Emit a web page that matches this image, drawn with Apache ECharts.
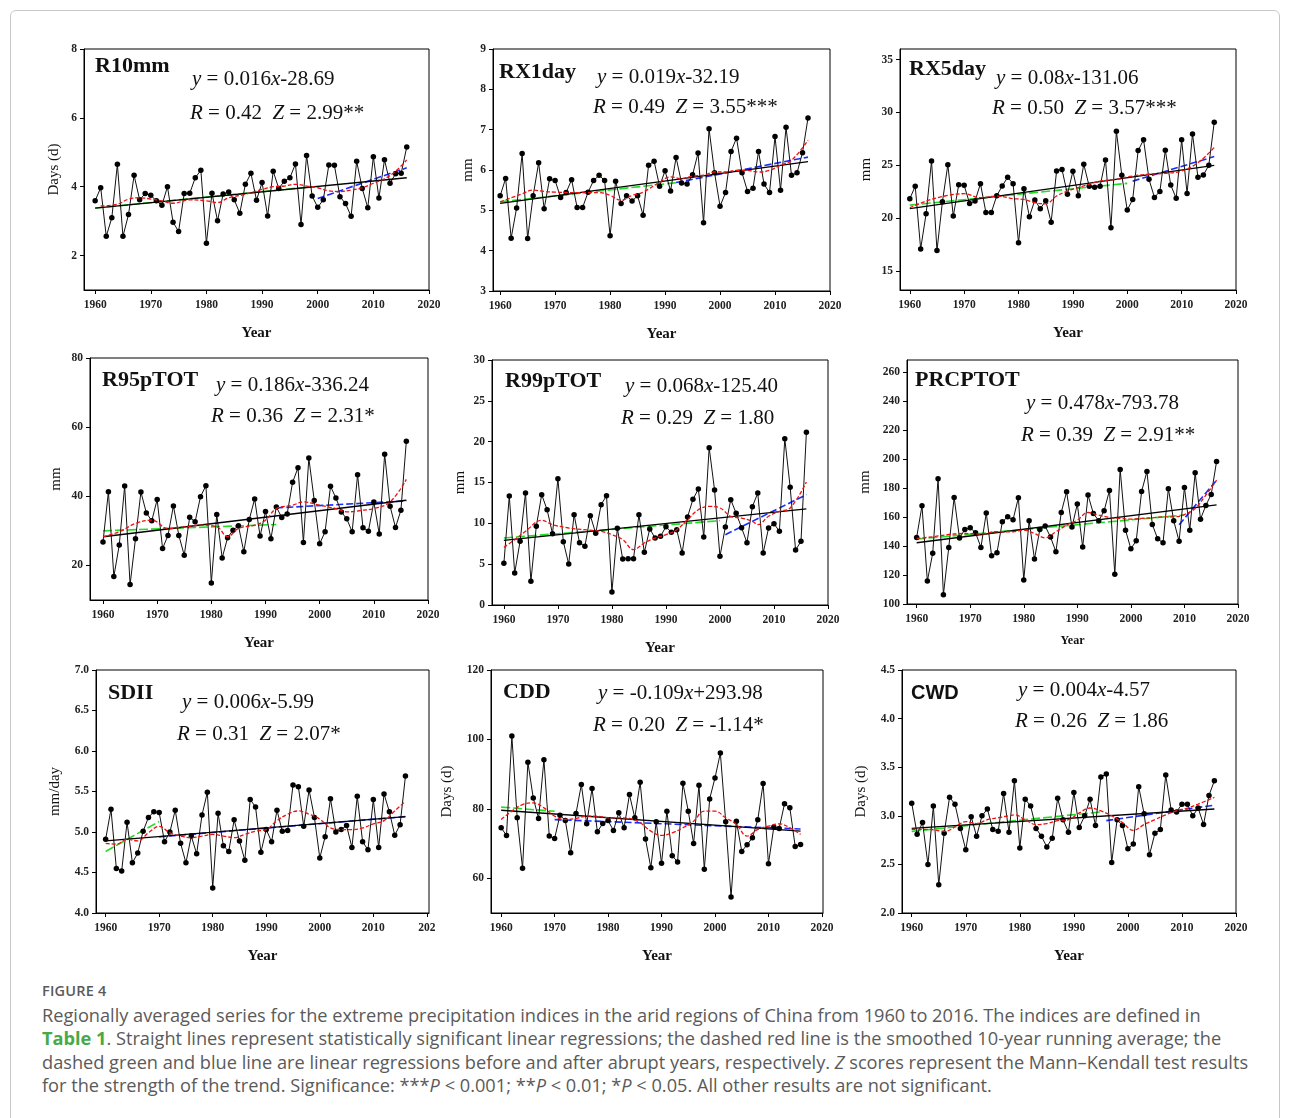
<!DOCTYPE html>
<html><head><meta charset="utf-8">
<script src="https://cdn.jsdelivr.net/npm/echarts@6/dist/echarts.min.js"></script>
<style>
html,body{margin:0;padding:0;background:#fff;width:1290px;height:1118px;overflow:hidden;}
#frame{position:absolute;left:10px;top:10px;width:1270px;height:1200px;border:1px solid #c9c9c9;border-radius:6px;box-sizing:border-box;}
#chart{position:absolute;left:0;top:0;width:1290px;height:975px;}
#fig{position:absolute;left:42px;top:981px;font-family:"Open Sans",sans-serif;font-size:14.5px;font-weight:600;color:#5a5a5a;letter-spacing:0.2px;}
#cap{position:absolute;left:42px;top:1004px;font-family:"Open Sans",sans-serif;font-size:18.2px;line-height:23.4px;color:#5a5a5a;white-space:nowrap;}
#cap b{color:#46a94a;font-weight:700;}
</style></head>
<body>
<div id="frame"></div>
<div id="chart"></div>
<div id="fig">FIGURE 4</div>
<div id="cap">Regionally averaged series for the extreme precipitation indices in the arid regions of China from 1960 to 2016. The indices are defined in<br><b>Table 1</b>. Straight lines represent statistically significant linear regressions; the dashed red line is the smoothed 10-year running average; the<br>dashed green and blue line are linear regressions before and after abrupt years, respectively. <i>Z</i> scores represent the Mann&#8211;Kendall test results<br>for the strength of the trend. Significance: ***<i>P</i> &lt; 0.001; **<i>P</i> &lt; 0.01; *<i>P</i> &lt; 0.05. All other results are not significant.</div>
<script>
const YEARS = [1960,1961,1962,1963,1964,1965,1966,1967,1968,1969,1970,1971,1972,1973,1974,1975,1976,1977,1978,1979,1980,1981,1982,1983,1984,1985,1986,1987,1988,1989,1990,1991,1992,1993,1994,1995,1996,1997,1998,1999,2000,2001,2002,2003,2004,2005,2006,2007,2008,2009,2010,2011,2012,2013,2014,2015,2016];
const X_TICKS = [1960,1970,1980,1990,2000,2010,2020];

// ---- annual series ----
const R10mm = [3.59,3.97,2.56,3.10,4.65,2.56,3.19,4.33,3.62,3.80, 3.75,3.59,3.46,4.00,2.97,2.70,3.80,3.81,4.26,4.48, 2.36,3.81,3.01,3.79,3.85,3.62,3.23,4.07,4.39,3.61, 4.12,3.15,4.45,3.95,4.16,4.26,4.66,2.90,4.91,3.73, 3.40,3.62,4.63,4.62,3.71,3.51,3.14,4.74,3.95,3.39, 4.87,3.67,4.78,4.10,4.38,4.39,5.15];
const RX1day = [5.36,5.79,4.31,5.06,6.41,4.30,5.36,6.18,5.04,5.78, 5.74,5.32,5.44,5.76,5.07,5.07,5.45,5.74,5.87,5.74, 4.37,5.72,5.17,5.36,5.23,5.36,4.88,6.12,6.22,5.60, 5.98,5.48,6.31,5.68,5.65,5.88,6.42,4.69,7.02,5.93, 5.10,5.44,6.46,6.79,5.93,5.47,5.55,6.46,5.65,5.44, 6.83,5.50,7.06,5.87,5.93,6.43,7.29];
const RX5day = [21.84,23.01,17.09,20.41,25.41,16.93,21.55,25.06,20.19,23.16, 23.10,21.39,21.61,23.26,20.54,20.54,22.12,23.04,23.86,23.26, 17.66,22.78,20.13,21.71,20.89,21.65,19.62,24.46,24.59,22.25, 24.43,22.12,25.09,23.01,22.91,23.01,25.51,19.08,28.23,24.05, 20.76,21.77,26.39,27.41,23.67,21.96,22.53,26.42,23.13,21.87, 27.41,22.34,27.97,23.86,24.08,25.00,29.08];
const R95pTOT = [26.76,41.34,16.78,25.89,42.98,14.47,27.72,41.25,35.20,32.90, 39.04,24.93,28.68,37.22,28.68,22.92,33.95,32.61,39.90,43.07, 14.95,34.72,22.15,28.00,30.21,31.46,23.97,33.28,39.23,28.48, 35.59,27.72,36.93,33.86,34.91,44.03,48.25,26.66,51.04,38.75, 26.28,29.73,42.88,39.52,35.49,33.47,29.73,46.24,30.88,29.92, 38.37,29.06,52.19,37.12,30.98,35.97,55.93];
const R99pTOT = [5.10,13.35,3.92,7.80,13.71,2.90,9.63,13.51,11.67,8.73, 15.47,7.76,5.02,11.06,7.63,7.18,10.94,8.78,12.29,13.39, 1.59,9.39,5.63,5.67,5.67,11.06,6.45,9.31,8.20,8.41, 9.59,8.90,9.22,6.37,10.78,12.94,14.20,8.33,19.27,14.08, 5.96,9.55,12.90,11.22,9.47,7.63,12.04,13.71,6.37,9.43, 9.96,9.02,20.37,14.41,6.73,7.80,21.14];
const PRCPTOT = [146.0,167.8,115.8,135.1,186.5,106.4,139.1,173.6,145.5,151.5, 152.6,149.2,139.1,162.8,133.3,135.4,156.8,160.2,158.2,173.4, 116.5,157.5,131.0,151.5,153.8,146.2,136.1,163.2,177.5,153.1, 169.0,139.3,175.2,162.5,157.5,164.4,178.4,120.6,192.9,151.0, 138.1,143.7,177.7,191.5,154.9,145.0,142.3,179.6,157.5,143.4, 180.5,151.0,190.6,158.6,168.1,175.7,198.4];
const SDII = [4.91,5.28,4.55,4.52,5.12,4.62,4.74,5.01,5.18,5.25, 5.24,4.88,5.00,5.27,4.86,4.62,4.95,4.73,5.21,5.49, 4.31,5.23,4.83,4.76,5.15,4.89,4.65,5.40,5.31,4.75, 5.03,4.88,5.27,5.01,5.02,5.58,5.56,5.07,5.52,5.18, 4.68,4.94,5.41,5.00,5.03,5.08,4.81,5.44,4.88,4.78, 5.40,4.81,5.47,5.25,4.96,5.09,5.69];
const CDD = [74.55,72.34,100.96,77.42,62.87,93.40,83.16,77.22,94.16,72.15, 71.48,78.18,76.65,67.37,78.66,86.99,75.69,85.84,73.40,75.79, 76.65,73.78,78.85,74.55,84.11,77.42,87.66,71.29,63.06,76.27, 64.31,79.33,66.51,64.69,87.37,79.33,70.05,86.79,62.58,82.87, 88.90,96.08,76.27,54.64,76.46,67.75,69.67,71.67,76.84,87.27, 64.21,74.74,74.35,81.44,80.29,69.19,69.76];
const CWD = [3.13,2.81,2.93,2.50,3.10,2.29,2.82,3.19,3.12,2.87, 2.65,2.99,2.79,3.00,3.07,2.86,2.84,3.23,2.83,3.36, 2.67,3.17,3.10,2.87,2.79,2.68,2.77,3.18,2.96,2.83, 3.24,2.88,3.00,3.17,2.90,3.40,3.43,2.52,2.96,2.90, 2.66,2.71,3.30,3.02,2.60,2.82,2.86,3.42,3.06,3.04, 3.12,3.12,3.00,3.08,2.91,3.21,3.36];

// ---- smoothed 10-year running average ----
const R10mm_smooth = [[1961,3.44],[1964,3.49],[1966,3.64],[1968,3.68],[1970,3.64],[1972,3.59],[1974,3.52],[1977,3.62],[1980,3.59],[1982,3.54],[1984,3.68],[1987,3.78],[1990,3.92],[1992,4.0],[1994,4.02],[1996,4.07],[1998,4.02],[2000,3.97],[2002,3.88],[2004,3.86],[2006,3.90],[2008,3.97],[2010,4.10],[2012,4.23],[2014,4.45],[2016,4.78]];
const RX1day_smooth = [[1960,5.21],[1962,5.31],[1964,5.41],[1966,5.50],[1968,5.47],[1970,5.45],[1974,5.44],[1978,5.44],[1980,5.37],[1982,5.25],[1984,5.37],[1986,5.45],[1989,5.70],[1991,5.83],[1993,5.79],[1995,5.85],[1997,5.87],[1999,5.95],[2001,5.95],[2003,5.99],[2005,5.99],[2007,5.95],[2009,5.99],[2011,6.12],[2013,6.24],[2016,6.74]];
const RX5day_smooth = [[1960,20.98],[1963,21.61],[1967,22.15],[1970,22.31],[1973,21.93],[1976,22.09],[1979,21.84],[1981,21.77],[1983,21.46],[1985,21.36],[1987,22.09],[1989,22.56],[1992,23.04],[1995,23.51],[1998,23.67],[2001,23.99],[2004,24.15],[2007,24.24],[2010,24.46],[2013,25.25],[2016,26.68]];
const R95pTOT_smooth = [[1960,28.29],[1963,29.73],[1966,32.13],[1969,33.09],[1972,30.69],[1975,31.17],[1978,31.65],[1981,31.17],[1983,28.29],[1985,30.69],[1988,31.65],[1990,33.09],[1992,36.45],[1995,37.41],[1997,38.37],[2000,37.41],[2003,36.45],[2005,35.49],[2008,35.97],[2010,36.45],[2013,38.37],[2016,44.89]];
const R99pTOT_smooth = [[1960,7.06],[1962,8.0],[1964,9.02],[1967,10.37],[1969,9.84],[1972,9.43],[1975,9.22],[1978,9.02],[1980,8.61],[1982,8.0],[1984,6.78],[1986,7.59],[1988,8.2],[1990,8.61],[1992,9.22],[1994,10.45],[1996,11.67],[1998,12.08],[2000,11.88],[2002,10.86],[2004,10.65],[2006,10.24],[2007,9.84],[2009,10.86],[2011,11.47],[2013,11.88],[2016,15.06]];
const PRCPTOT_smooth = [[1960,145.3],[1963,146.4],[1966,148.0],[1969,148.7],[1972,148.3],[1975,149.9],[1978,149.9],[1980,151.0],[1982,148.7],[1984,145.7],[1986,149.9],[1988,154.5],[1990,157.9],[1992,163.2],[1994,161.4],[1996,159.8],[1998,159.1],[2000,158.6],[2002,159.1],[2004,159.5],[2006,160.2],[2008,160.2],[2010,161.8],[2012,166.0],[2014,175.2],[2016,185.5]];
const SDII_smooth = [[1960,4.86],[1962,4.85],[1964,4.91],[1966,4.89],[1968,4.99],[1970,5.07],[1972,4.99],[1974,4.95],[1976,4.93],[1978,4.95],[1980,4.97],[1982,4.95],[1984,4.93],[1986,4.97],[1988,5.01],[1990,5.03],[1992,5.14],[1994,5.22],[1996,5.26],[1998,5.22],[2000,5.16],[2002,5.05],[2004,5.03],[2006,5.03],[2008,5.05],[2010,5.10],[2012,5.14],[2014,5.26],[2016,5.38]];
const CDD_smooth = [[1960,76.94],[1962,79.33],[1964,81.24],[1966,81.72],[1968,80.29],[1970,77.89],[1972,76.94],[1974,77.22],[1976,77.89],[1978,77.89],[1980,77.42],[1982,77.42],[1984,77.22],[1986,75.98],[1988,73.59],[1990,72.34],[1992,73.11],[1994,74.55],[1996,76.46],[1998,79.33],[2000,79.33],[2002,77.42],[2004,75.5],[2006,72.15],[2008,74.07],[2010,75.02],[2012,75.69],[2014,74.55],[2016,72.63]];
const CWD_smooth = [[1960,2.86],[1963,2.86],[1966,2.84],[1969,2.92],[1970,2.94],[1972,2.92],[1974,2.96],[1976,2.98],[1978,3.0],[1979,3.01],[1981,2.96],[1983,2.91],[1985,2.92],[1987,2.95],[1989,2.96],[1991,3.03],[1993,3.08],[1995,3.05],[1997,3.0],[1999,2.93],[2001,2.85],[2003,2.91],[2005,2.96],[2007,3.01],[2009,3.05],[2011,3.08],[2013,3.12],[2016,3.19]];

// ---- regression line end points: whole period / before / after abrupt year ----
const R10mm_fit = [[1960,3.38],[2016,4.26]], R10mm_before = [[1960,3.38],[1999,4.0]], R10mm_after = [[2000,3.66],[2016,4.55]];
const RX1day_fit = [[1960,5.17],[2016,6.21]], RX1day_before = [[1960,5.21],[1993,5.70]], RX1day_after = [[1992,5.69],[2016,6.32]];
const RX5day_fit = [[1960,20.89],[2016,25.0]], RX5day_before = [[1960,21.23],[2000,23.29]], RX5day_after = [[2001,23.5],[2016,25.82]];
const R95pTOT_fit = [[1960,28.29],[2016,38.85]], R95pTOT_before = [[1960,30.0],[1992,31.84]], R95pTOT_after = [[1992,36.64],[2016,38.66]];
const R99pTOT_fit = [[1960,7.92],[2016,11.76]], R99pTOT_before = [[1960,8.2],[2000,10.33]], R99pTOT_after = [[2001,8.61],[2016,13.51]];
const PRCPTOT_fit = [[1960,142.3],[2016,168.5]], PRCPTOT_before = [[1960,144.8],[2010,161.4]], PRCPTOT_after = [[2009,154.7],[2016,185.5]];
const SDII_fit = [[1960,4.89],[2016,5.19]], SDII_before = [[1960,4.76],[1970,5.13]], SDII_after = [[1970,4.94],[2016,5.19]];
const CDD_fit = [[1960,79.6],[2016,73.6]], CDD_before = [[1960,80.5],[1970,79.3]], CDD_after = [[1970,76.9],[2016,74.2]];
const CWD_fit = [[1960,2.87],[2016,3.07]], CWD_before = [[1960,2.84],[1995,3.04]], CWD_after = [[1996,2.95],[2016,3.11]];

// ---- y tick labels ----
const R10mm_yticks = [2,4,6,8];
const RX1day_yticks = [3,4,5,6,7,8,9];
const RX5day_yticks = [15,20,25,30,35];
const R95pTOT_yticks = [20,40,60,80];
const R99pTOT_yticks = [0,5,10,15,20,25,30];
const PRCPTOT_yticks = [100,120,140,160,180,200,220,240,260];
const SDII_yticks = [4.0,4.5,5.0,5.5,6.0,6.5,7.0];
const CDD_yticks = [60,80,100,120];
const CWD_yticks = [2.0,2.5,3.0,3.5,4.0,4.5];

const panels = [
 {name:'R10mm', vals:R10mm, sm:R10mm_smooth, fit:R10mm_fit, b:R10mm_before, a:R10mm_after, yt:R10mm_yticks,
  grid:[84,49,345,241], xr:[1958,2020], yr:[1,8], yname:'Days (d)', ygap:22,
  t:[95,55], e1:['{i|y} = 0.016{i|x}-28.69',192,69], e2:['{i|R} = 0.42  {i|Z} = 2.99**',190,103]},
 {name:'RX1day', vals:RX1day, sm:RX1day_smooth, fit:RX1day_fit, b:RX1day_before, a:RX1day_after, yt:RX1day_yticks,
  grid:[493,49,337,242], xr:[1958.7,2020], yr:[3,9], yname:'mm', ygap:17,
  t:[499,61], e1:['{i|y} = 0.019{i|x}-32.19',597,67], e2:['{i|R} = 0.49  {i|Z} = 3.55***',593,97]},
 {name:'RX5day', vals:RX5day, sm:RX5day_smooth, fit:RX5day_fit, b:RX5day_before, a:RX5day_after, yt:RX5day_yticks,
  grid:[900,49,336,241], xr:[1958.2,2020], yr:[13.2,36], yname:'mm', ygap:26,
  t:[909,58], e1:['{i|y} = 0.08{i|x}-131.06',996,68], e2:['{i|R} = 0.50  {i|Z} = 3.57***',992,98]},
 {name:'R95pTOT', vals:R95pTOT, sm:R95pTOT_smooth, fit:R95pTOT_fit, b:R95pTOT_before, a:R95pTOT_after, yt:R95pTOT_yticks,
  grid:[90,358,338,242], xr:[1957.6,2020], yr:[10,80], yname:'mm', ygap:26,
  t:[102,369], e1:['{i|y} = 0.186{i|x}-336.24',216,375], e2:['{i|R} = 0.36  {i|Z} = 2.31*',211,406]},
 {name:'R99pTOT', vals:R99pTOT, sm:R99pTOT_smooth, fit:R99pTOT_fit, b:R99pTOT_before, a:R99pTOT_after, yt:R99pTOT_yticks,
  grid:[492,360,336,245], xr:[1957.8,2020], yr:[0,30], yname:'mm', ygap:24,
  t:[505,370], e1:['{i|y} = 0.068{i|x}-125.40',625,376], e2:['{i|R} = 0.29  {i|Z} = 1.80',621,408]},
 {name:'PRCPTOT', vals:PRCPTOT, sm:PRCPTOT_smooth, fit:PRCPTOT_fit, b:PRCPTOT_before, a:PRCPTOT_after, yt:PRCPTOT_yticks,
  grid:[907,360,331,244], xr:[1958.2,2020], yr:[100,268.5], yname:'mm', ygap:34, smallYear:true,
  t:[915,369], e1:['{i|y} = 0.478{i|x}-793.78',1026,393], e2:['{i|R} = 0.39  {i|Z} = 2.91**',1021,425]},
 {name:'SDII', vals:SDII, sm:SDII_smooth, fit:SDII_fit, b:SDII_before, a:SDII_after, yt:SDII_yticks, dec:1, last202:true,
  grid:[96,670,333,243], xr:[1958.2,2020.4], yr:[4,7], yname:'mm/day', ygap:33,
  t:[108,682], e1:['{i|y} = 0.006{i|x}-5.99',182,692], e2:['{i|R} = 0.31  {i|Z} = 2.07*',177,724]},
 {name:'CDD', vals:CDD, sm:CDD_smooth, fit:CDD_fit, b:CDD_before, a:CDD_after, yt:CDD_yticks,
  grid:[491,670,332,243], xr:[1958.1,2020.2], yr:[50,120], yname:'Days (d)', ygap:36,
  t:[503,681], e1:['{i|y} = -0.109{i|x}+293.98',598,683], e2:['{i|R} = 0.20  {i|Z} = -1.14*',593,715]},
 {name:'CWD', vals:CWD, sm:CWD_smooth, fit:CWD_fit, b:CWD_before, a:CWD_after, yt:CWD_yticks, dec:1, sans:true,
  grid:[902,670,334,243], xr:[1958.2,2020], yr:[2,4.5], yname:'Days (d)', ygap:33,
  t:[911,683], e1:['{i|y} = 0.004{i|x}-4.57',1018,680], e2:['{i|R} = 0.26  {i|Z} = 1.86',1015,711]}
];

const SERIF = '"Liberation Serif","DejaVu Serif",serif';
const grids=[], xAxes=[], yAxes=[], series=[], titles=[];
panels.forEach((p,k)=>{
  grids.push({left:p.grid[0], top:p.grid[1], width:p.grid[2], height:p.grid[3], show:true, borderColor:'#000', borderWidth:1, backgroundColor:'transparent', containLabel:false});
  xAxes.push({type:'value', gridIndex:k, min:p.xr[0], max:p.xr[1],
    name:'Year', nameLocation:'middle', nameGap: p.smallYear?31:36,
    nameTextStyle:{fontFamily:SERIF, fontSize:p.smallYear?12:15, fontWeight:'bold', color:'#111'},
    axisLine:{show:true, lineStyle:{color:'#000', width:1}},
    axisTick:{show:true, length:4, inside:false, customValues:X_TICKS, lineStyle:{color:'#000'}},
    axisLabel:{customValues:X_TICKS, margin:9, fontFamily:SERIF, fontSize:11.5, fontWeight:'bold', color:'#222',
      formatter:(v)=> (p.last202 && v===2020) ? '202' : String(v)},
    splitLine:{show:false}});
  yAxes.push({type:'value', gridIndex:k, min:p.yr[0], max:p.yr[1],
    name:p.yname, nameLocation:'middle', nameGap:p.ygap, nameRotate:90,
    nameTextStyle:{fontFamily:SERIF, fontSize:15, color:'#111'},
    axisLine:{show:true, lineStyle:{color:'#000', width:1}},
    axisTick:{show:true, length:4, inside:false, customValues:p.yt, lineStyle:{color:'#000'}},
    axisLabel:{customValues:p.yt, margin:7, fontFamily:SERIF, fontSize:11.5, fontWeight:'bold', color:'#222',
      formatter:(v)=> p.dec ? v.toFixed(1) : String(v)},
    splitLine:{show:false}});
  const pts = YEARS.map((y,i)=>[y, p.vals[i]]);
  series.push({type:'line', xAxisIndex:k, yAxisIndex:k, data:p.b, symbol:'none', silent:true, z:3,
    lineStyle:{color:'#22dd22', width:1.6, type:[9,3]}});
  series.push({type:'line', xAxisIndex:k, yAxisIndex:k, data:p.a, symbol:'none', silent:true, z:3,
    lineStyle:{color:'#1a2cff', width:1.6, type:[7,3]}});
  series.push({type:'line', xAxisIndex:k, yAxisIndex:k, data:pts, symbol:'circle', symbolSize:5.5, silent:true, z:4,
    itemStyle:{color:'#000'}, lineStyle:{color:'#111', width:1}});
  series.push({type:'line', xAxisIndex:k, yAxisIndex:k, data:p.fit, symbol:'none', silent:true, z:5,
    lineStyle:{color:'#000', width:1.3}});
  series.push({type:'line', xAxisIndex:k, yAxisIndex:k, data:p.sm, symbol:'none', smooth:0.4, silent:true, z:6,
    lineStyle:{color:'#ee1111', width:1.3, type:[4,2]}});
  titles.push({text:p.name, left:p.t[0], top:p.t[1], padding:0,
    textStyle:{fontFamily: p.sans ? '"Liberation Sans",Arial,sans-serif' : SERIF, fontSize: p.sans?20:22, fontWeight:'bold', color:'#111'}});
  [p.e1,p.e2].forEach(e=>{
    titles.push({text:e[0], left:e[1], top:e[2], padding:0,
      textStyle:{fontFamily:SERIF, fontSize:21, fontWeight:'normal', color:'#111',
        rich:{i:{fontFamily:SERIF, fontSize:21, fontStyle:'italic', color:'#111'}}}});
  });
});

const chart = echarts.init(document.getElementById('chart'), null, {renderer:'canvas'});
chart.setOption({animation:false, backgroundColor:'transparent', title:titles, grid:grids, xAxis:xAxes, yAxis:yAxes, series:series});
</script>
</body></html>
